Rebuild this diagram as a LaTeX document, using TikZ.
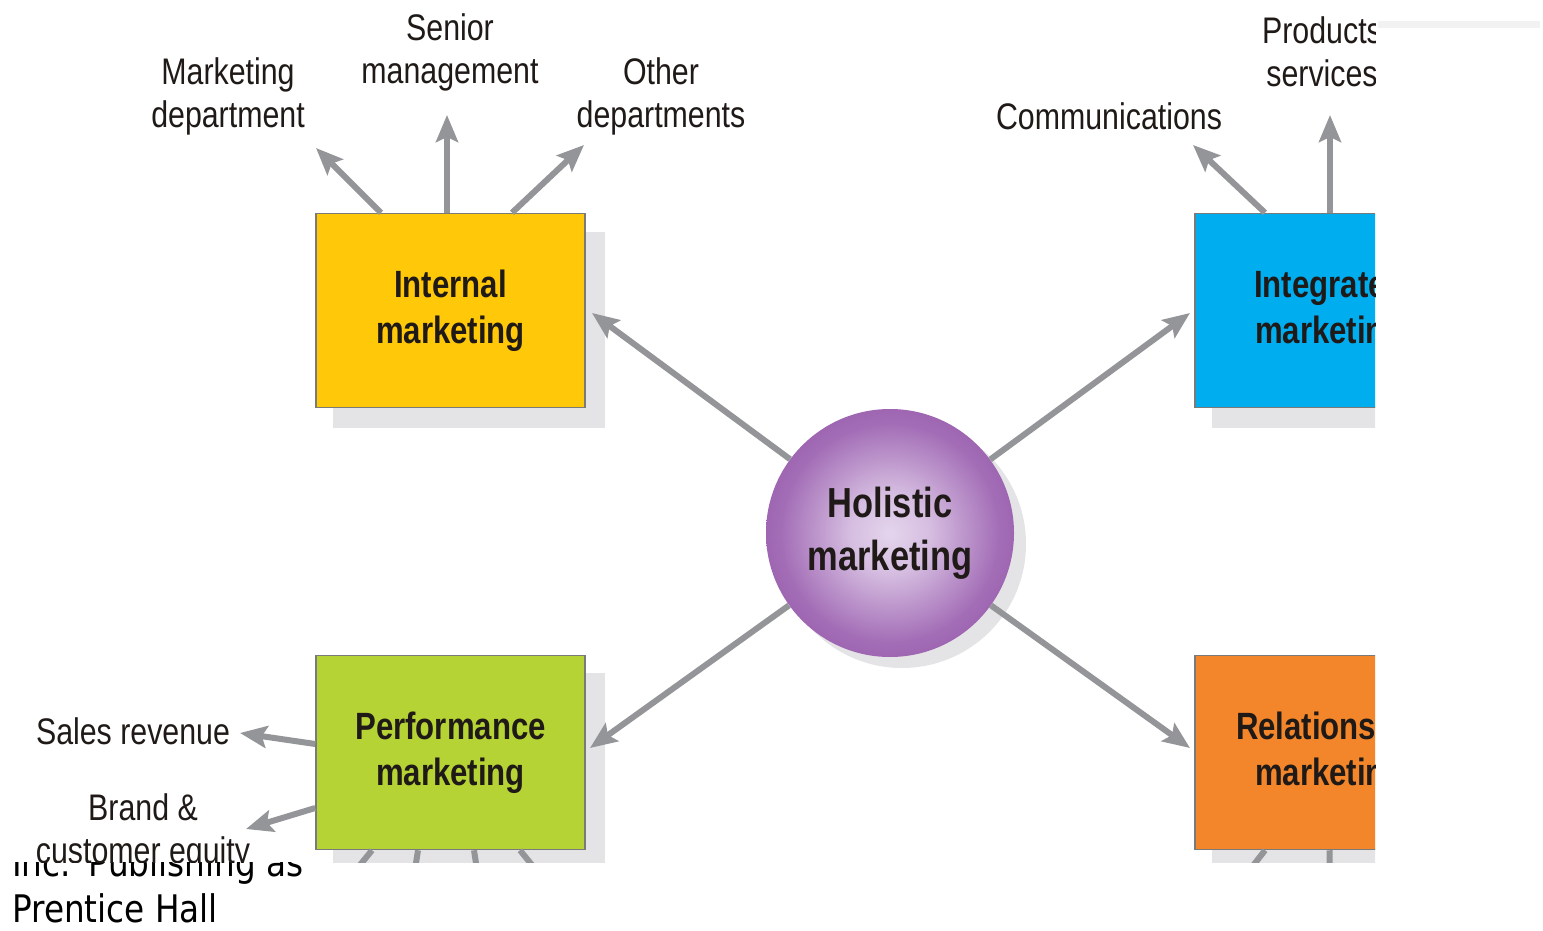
\documentclass[tikz,border=0pt]{standalone}
\usepackage{fontspec}
\newfontfamily\cond[FakeStretch=0.82]{Liberation Sans}
\newfontfamily\tah[FakeStretch=0.86]{DejaVu Sans}
\usetikzlibrary{arrows.meta}
\definecolor{txt}{HTML}{1F1A17}
\definecolor{arrg}{HTML}{939598}
\definecolor{shad}{HTML}{E4E4E7}
\definecolor{bord}{HTML}{7A7A78}
\definecolor{cyel}{HTML}{FFC808}
\definecolor{cblu}{HTML}{00AEEF}
\definecolor{cgrn}{HTML}{B5D334}
\definecolor{corg}{HTML}{F3862A}
\definecolor{hin}{HTML}{E4D5EC}
\definecolor{hmid}{HTML}{B487C6}
\definecolor{hout}{HTML}{8A479F}
\pgfdeclareradialshading{holi}{\pgfpoint{0bp}{0bp}}{color(0bp)=(hin); color(8bp)=(hin!70!hmid); color(22bp)=(hmid!60!hout); color(38bp)=(hout); color(50bp)=(hout)}
\tikzset{
  mbox/.style={draw=bord, line width=1.5pt, minimum width=269pt, minimum height=194pt, inner sep=0pt, align=center, text=txt, font=\cond\bfseries\fontsize{38}{46}\selectfont},
  lbl/.style={inner sep=0pt, align=center, text=txt, font=\cond\fontsize{37}{43}\selectfont},
  foot/.style={anchor=base west, inner sep=0pt, text=black, font=\tah\fontsize{38}{46}\selectfont},
  arr/.style={draw=arrg, line width=6pt, -{Stealth[length=27pt,width=22pt,inset=5pt]}},
  stub/.style={draw=arrg, line width=6pt}
}
\begin{document}
\begin{tikzpicture}[x=1pt,y=-1pt]
\useasboundingbox (0,0) rectangle (1543,931);
% footer text (partly covered by the diagram)
\node[foot] (inc) at (12,876) {Inc.\hspace{18pt}Publishing as};
\node[foot] (ph) at (12,922) {Prentice Hall};
\fill[black!5] (1378,21) rectangle (1540,28);
\begin{scope}
\clip (0,0) rectangle (1375,862);
\fill[white] (0,0) rectangle (1375,862);
% shadows
\fill[shad] (333,232) rectangle (605,428);
\fill[shad] (1212,232) rectangle (1484,428);
\fill[shad] (333,673) rectangle (605,870);
\fill[shad] (1212,673) rectangle (1484,870);
\fill[shad] (902,544) circle[radius=124];
% boxes
\node[mbox, fill=cyel] (int) at (450.5,310.5) {Internal\\marketing};
\node[mbox, fill=cblu] (integ) at (1329.5,310.5) {Integrated\\marketing};
\node[mbox, fill=cgrn] (perf) at (450.5,752.5) {Performance\\marketing};
\node[mbox, fill=corg] (rel) at (1329.5,752.5) {Relationship\\marketing};
% circle
\node[circle, minimum size=248pt, inner sep=0pt, shading=holi, align=center, text=txt, font=\cond\bfseries\fontsize{42}{53}\selectfont] (hol) at (890,533) {Holistic\\marketing};
% labels
\node[lbl] (mdept) at (228,96) {Marketing\\department};
\node[lbl] (senior) at (450,52) {Senior\\management};
\node[lbl] (other) at (661,96) {Other\\departments};
\node[lbl] (comm) at (1109,116) {Communications};
\node[lbl] (prod) at (1322,52) {Products\\services};
\node[lbl] (sales) at (133,731) {Sales revenue};
\node[lbl] (brand) at (143,832) {Brand \&\\customer equity};
% arrow tips
\coordinate (tMD) at (316,148);
\coordinate (tSM) at (447,115);
\coordinate (tOD) at (584,145);
\coordinate (tCO) at (1193,145);
\coordinate (tPS) at (1330,115);
\coordinate (tSR) at (240,733);
\coordinate (tBE) at (246,829);
\coordinate (tI) at (592,313);
\coordinate (tG) at (1190,313);
\coordinate (tP) at (590,748);
\coordinate (tR) at (1190,748);
\coordinate (b1) at (330,902);
\coordinate (b2) at (410,902);
\coordinate (b3) at (482,902);
\coordinate (b4) at (562,902);
\coordinate (b5) at (1225,902);
\coordinate (b6) at (1330,902);
% arrows
\draw[arr] ([xshift=-69.5pt]int.north) -- (tMD);
\draw[arr] ([xshift=-3.5pt]int.north) -- (tSM);
\draw[arr] ([xshift=61.5pt]int.north) -- (tOD);
\draw[arr] ([xshift=-64.5pt]integ.north) -- (tCO);
\draw[arr] ([xshift=0.5pt]integ.north) -- (tPS);
\draw[arr] ([yshift=8.5pt]perf.west) -- (tSR);
\draw[arr] ([yshift=-55.5pt]perf.west) -- (tBE);
\draw[arr] (hol) -- (tI);
\draw[arr] (hol) -- (tG);
\draw[arr] (hol) -- (tP);
\draw[arr] (hol) -- (tR);
\draw[stub] ([xshift=-78.5pt]perf.south) -- (b1);
\draw[stub] ([xshift=-32.5pt]perf.south) -- (b2);
\draw[stub] ([xshift=23.5pt]perf.south) -- (b3);
\draw[stub] ([xshift=69.5pt]perf.south) -- (b4);
\draw[stub] ([xshift=-64.5pt]rel.south) -- (b5);
\draw[stub] (rel.south) -- (b6);
\end{scope}
\end{tikzpicture}
\end{document}
